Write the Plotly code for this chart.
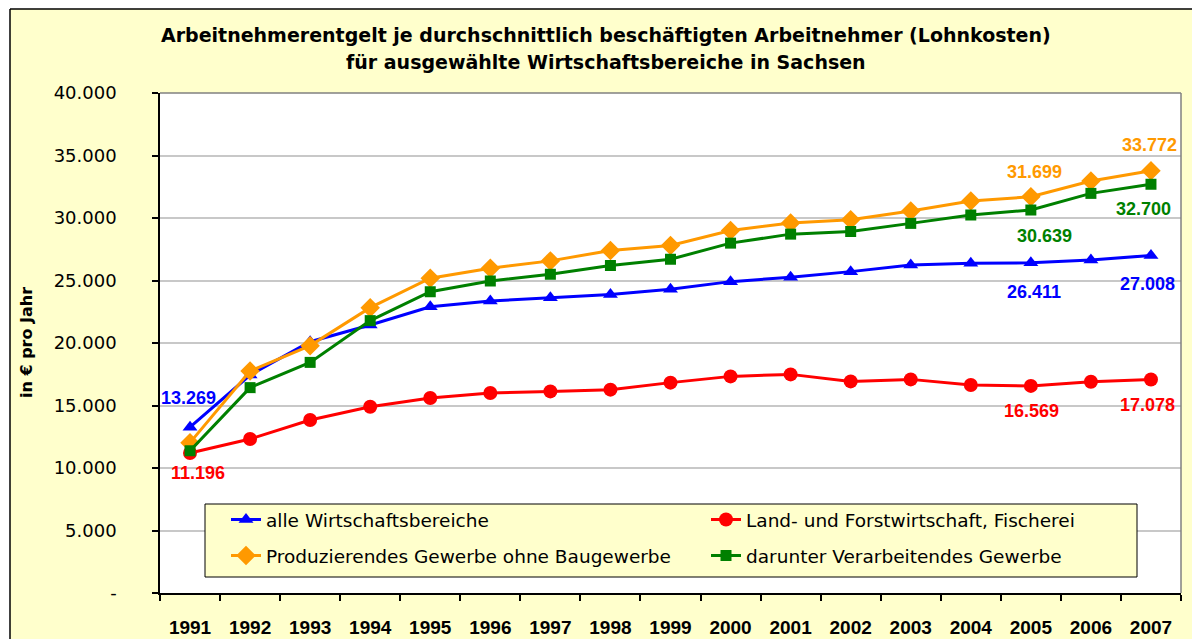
import plotly.graph_objects as go

years = [str(y) for y in range(1991, 2008)]

alle = [13269, 17440, 20100, 21440, 22900, 23360, 23620, 23890, 24300, 24910,
        25260, 25710, 26240, 26380, 26411, 26640, 27008]
land = [11196, 12320, 13840, 14900, 15600, 16000, 16130, 16270, 16830, 17330,
        17490, 16930, 17090, 16640, 16569, 16900, 17078]
prod = [12030, 17760, 19790, 22830, 25180, 25980, 26570, 27400, 27800, 29000,
        29600, 29860, 30560, 31360, 31699, 32960, 33772]
verarb = [11380, 16430, 18450, 21790, 24100, 24960, 25500, 26200, 26700, 27990,
          28710, 28920, 29570, 30240, 30639, 31970, 32700]

series_names = [
    "alle Wirtschaftsbereiche",
    "Land- und Forstwirtschaft, Fischerei",
    "Produzierendes Gewerbe ohne Baugewerbe",
    "darunter Verarbeitendes Gewerbe",
]

ytick_vals = [0, 5000, 10000, 15000, 20000, 25000, 30000, 35000, 40000]
ytick_text = ["-", "5.000", "10.000", "15.000", "20.000", "25.000", "30.000", "35.000", "40.000"]

title_lines = [
    "Arbeitnehmerentgelt je durchschnittlich beschäftigten Arbeitnehmer (Lohnkosten)",
    "für ausgewählte Wirtschaftsbereiche in Sachsen",
]
y_title = "in € pro Jahr"

FONT = "Liberation Sans, Arial, sans-serif"
WIDE = "DejaVu Sans, Verdana, sans-serif"
BLUE, RED, ORANGE, GREEN = "#0000FF", "#FF0000", "#FF9900", "#008000"

# Canvas geometry (pixels)
W, H = 1192, 639
L, R, T, B = 160, 11, 93, 46
PW, PH = W - L - R, H - T - B


def px(xp):
    return (xp - L) / PW


def py(yp):
    return (H - B - yp) / PH


def fmt(v):
    return f"{v:,}".replace(",", ".")


fig = go.Figure()
specs = [
    (alle, series_names[0], BLUE, "triangle-up", 13, "legend"),
    (land, series_names[1], RED, "circle", 14, "legend2"),
    (prod, series_names[2], ORANGE, "diamond", 15, "legend3"),
    (verarb, series_names[3], GREEN, "square", 11, "legend4"),
]
for vals, name, col, sym, size, lg in specs:
    fig.add_trace(go.Scatter(
        x=years, y=vals, name=name, mode="lines+markers",
        line=dict(color=col, width=3),
        marker=dict(symbol=sym, size=size, color=col),
        legend=lg,
    ))

# data labels: (series, index, xshift, yshift, color)
labels = [
    (alle, 0, -2, 29, BLUE),
    (land, 0, 8, -20, RED),
    (prod, 14, 4, 25, ORANGE),
    (prod, 16, -1, 26, ORANGE),
    (verarb, 14, 14, -26, GREEN),
    (verarb, 16, -7, -25, GREEN),
    (alle, 14, 3, -29, BLUE),
    (alle, 16, -3, -29, BLUE),
    (land, 14, 1, -25, RED),
    (land, 16, -3, -25, RED),
]
for s, i, xs, ys, col in labels:
    fig.add_annotation(x=i, y=s[i], text=fmt(s[i]), showarrow=False,
                       xshift=xs, yshift=ys,
                       font=dict(family=FONT, size=18, color=col, weight="bold"))

# title lines
for txt, yp in zip(title_lines, [35, 62]):
    fig.add_annotation(xref="paper", yref="paper", x=px(606), y=py(yp),
                       xanchor="center", yanchor="middle", text=txt, showarrow=False,
                       font=dict(family=WIDE, size=19, color="black", weight="bold"))

# y axis title
fig.add_annotation(xref="paper", yref="paper", x=px(26), y=py(343),
                   xanchor="center", yanchor="middle", text=y_title, textangle=-90,
                   showarrow=False,
                   font=dict(family=WIDE, size=16, color="black", weight="bold"))

shapes = [
    # white margin strips outside the chart frame
    dict(type="rect", xref="paper", yref="paper", x0=px(-5), x1=px(10), y0=py(H + 5), y1=py(-5),
         fillcolor="white", line=dict(width=0), layer="above"),
    dict(type="rect", xref="paper", yref="paper", x0=px(-5), x1=px(W + 5), y0=py(9), y1=py(-5),
         fillcolor="white", line=dict(width=0), layer="above"),
    # chart frame lines
    dict(type="line", xref="paper", yref="paper", x0=px(10), x1=px(W + 5), y0=py(9), y1=py(9),
         line=dict(color="black", width=1.5), layer="above"),
    dict(type="line", xref="paper", yref="paper", x0=px(10), x1=px(10), y0=py(9), y1=py(H + 5),
         line=dict(color="black", width=1.5), layer="above"),
    # plot area top & right border (gray)
    dict(type="line", xref="paper", yref="paper", x0=0, x1=1, y0=1, y1=1,
         line=dict(color="#808080", width=1.5), layer="above"),
    dict(type="line", xref="paper", yref="paper", x0=1, x1=1, y0=0, y1=1,
         line=dict(color="#808080", width=1.5), layer="above"),
    # legend box
    dict(type="rect", xref="paper", yref="paper", x0=px(205), x1=px(1137), y0=py(577), y1=py(504),
         fillcolor="#FFFFCC", line=dict(color="black", width=1), layer="above"),
]


def leg(xp, yp):
    return dict(orientation="h", xanchor="left", yanchor="middle",
                x=px(xp), y=py(yp),
                bgcolor="rgba(0,0,0,0)", borderwidth=0,
                font=dict(family=WIDE, size=18.5, color="black"),
                itemclick=False, itemdoubleclick=False)


fig.update_layout(
    width=W, height=H,
    margin=dict(l=L, r=R, t=T, b=B, pad=0, autoexpand=False),
    paper_bgcolor="#FFFFCC", plot_bgcolor="white",
    font=dict(family=FONT, color="black"),
    showlegend=True,
    legend=leg(226, 520),
    legend2=leg(706, 520),
    legend3=leg(226, 556),
    legend4=leg(706, 556),
    shapes=shapes,
    xaxis=dict(type="category", range=[-0.5, 16.5], tickson="boundaries",
               ticks="outside", ticklen=6, tickcolor="black", tickwidth=1.5,
               showline=True, linecolor="black", linewidth=1.5, automargin=False,
               showgrid=False, zeroline=False, ticklabelstandoff=16,
               tickfont=dict(family=FONT, size=19, color="black", weight="bold")),
    yaxis=dict(range=[0, 40000], tickvals=ytick_vals, ticktext=ytick_text,
               ticks="outside", ticklen=6, tickcolor="black", tickwidth=1.5,
               showline=True, linecolor="black", linewidth=1.5, automargin=False,
               showgrid=True, gridcolor="#C8C8C8", gridwidth=1.5, zeroline=False,
               ticklabelstandoff=32,
               tickfont=dict(family=WIDE, size=18, color="black")),
)

fig.write_html("out.html", config={"displayModeBar": False},
               post_script="document.body.style.margin='0';document.body.style.overflow='hidden';")
